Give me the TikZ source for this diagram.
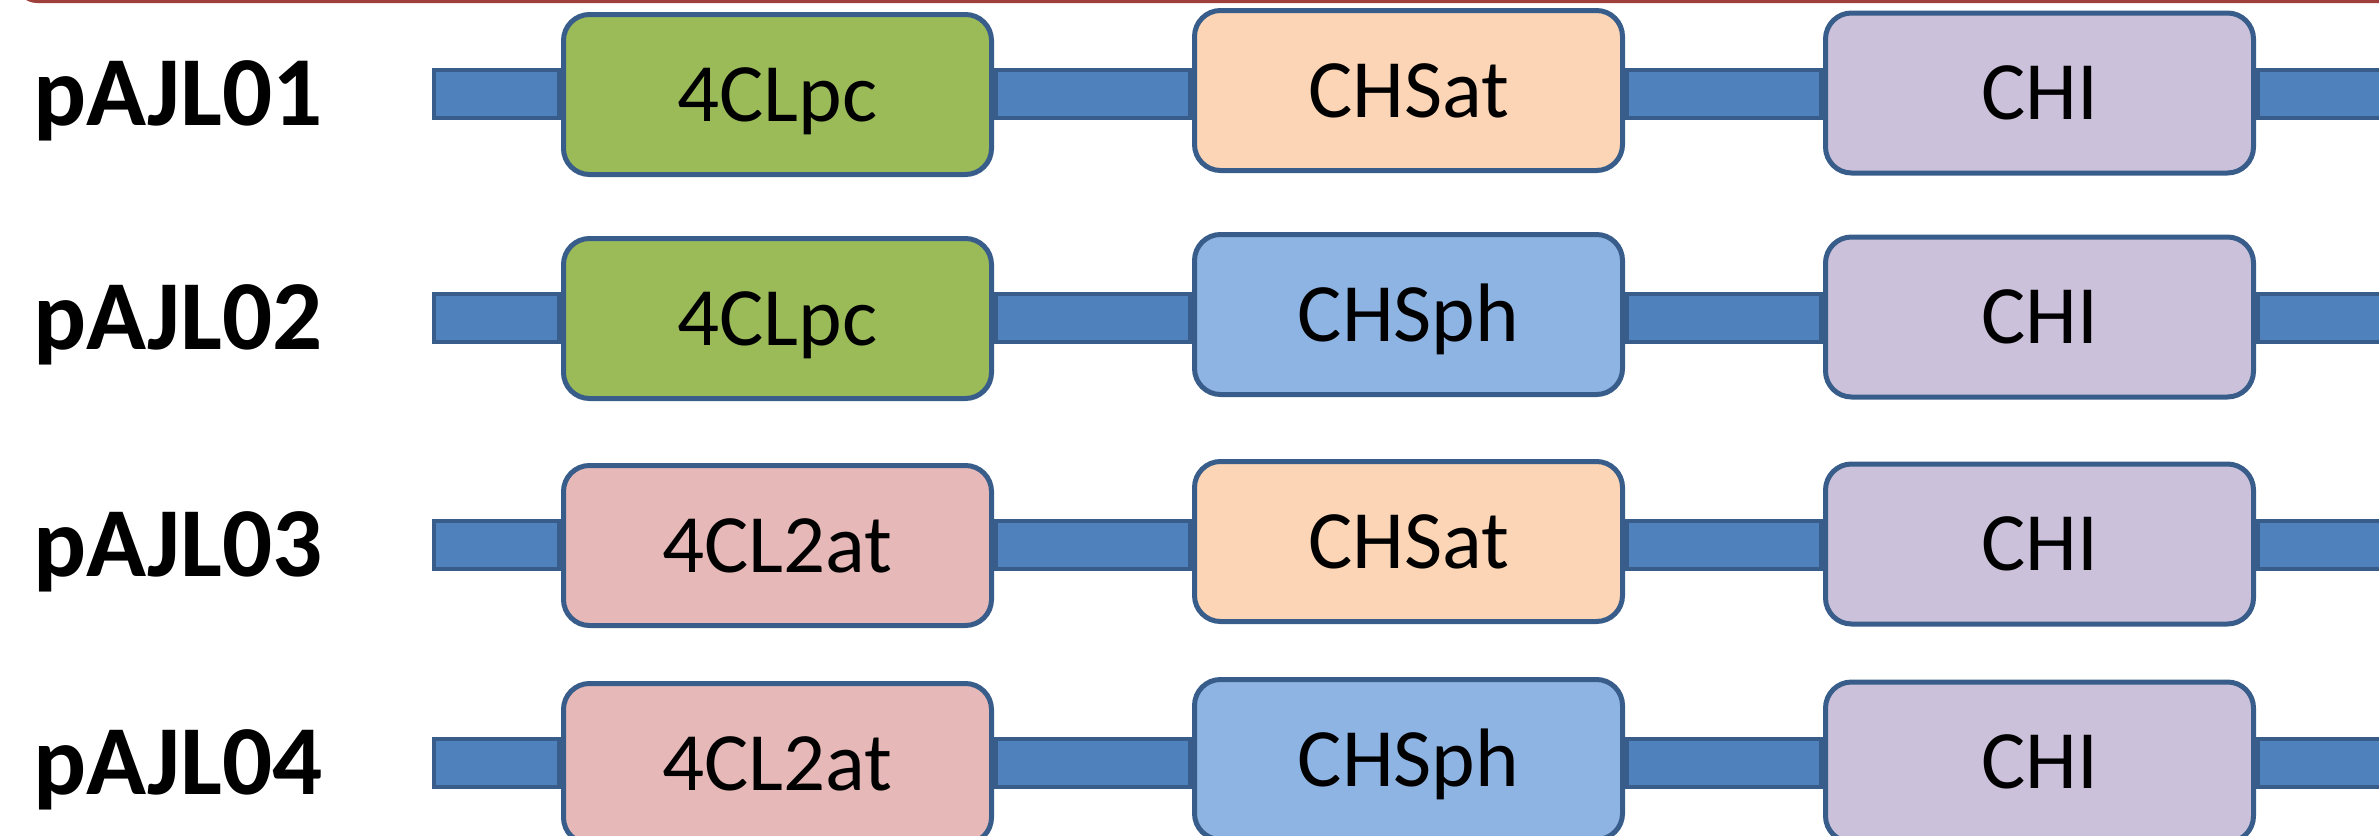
\documentclass[tikz,border=0pt]{standalone}
\usepackage{fontspec}
\setmainfont{Carlito}
\usetikzlibrary{backgrounds}
\definecolor{barfill}{HTML}{4F81BD}
\definecolor{edge}{HTML}{385D8A}
\definecolor{cgreen}{HTML}{9BBB59}
\definecolor{cpeach}{HTML}{FBD5B5}
\definecolor{cblue}{HTML}{8EB4E3}
\definecolor{cpink}{HTML}{E6B9B8}
\definecolor{clav}{HTML}{CCC1DA}
\definecolor{redline}{HTML}{A0403D}
\begin{document}
\begin{tikzpicture}[x=1pt,y=-1pt,
  box/.style={draw=edge, line width=5pt, rounded corners=26pt,
    minimum width=428pt, minimum height=160pt, inner sep=0pt,
    font=\fontsize{83}{90}\selectfont, text height=53pt, text depth=0pt},
  lab/.style={anchor=base west, inner sep=0pt, font=\fontsize{99}{104}\selectfont\bfseries},
  bar/.style={draw=edge, line width=52pt,
    postaction={draw=barfill, line width=44pt, shorten <=4pt, shorten >=4pt}},
  topline/.style={draw=redline, line width=3pt}]
\useasboundingbox (0,0) rectangle (2379,835);
\clip (0,0) rectangle (2379,835);
\draw[topline, rounded corners=20pt] (17,-60) -- (17,1.5) -- (2420,1.5);
% rows
\foreach \r/\y/\name/\fa/\ta/\fb/\tb in {1/94/pAJL01/cgreen/4CLpc/cpeach/CHSat,
                                        2/318/pAJL02/cgreen/4CLpc/cblue/CHSph,
                                        3/545/pAJL03/cpink/4CL2at/cpeach/CHSat,
                                        4/763/pAJL04/cpink/4CL2at/cblue/CHSph}{
  \node[lab] (lab\r) at (33,\y+31) {\name};
  \coordinate (L\r) at (432,\y);
  \coordinate (R\r) at (2400,\y);
  \node[box, fill=\fa] (a\r) at (777.5,\y+0.5) {\ta};
  \node[box, fill=\fb] (b\r) at (1408.5,\y-3.5) {\tb};
  \node[box, fill=clav] (c\r) at (2039.5,\y-1) {CHI};
  \begin{scope}[on background layer]
    \draw[bar] (L\r) -- (a\r.west |- L\r);
    \draw[bar] (a\r.east |- L\r) -- (b\r.west |- L\r);
    \draw[bar] (b\r.east |- L\r) -- (c\r.west |- L\r);
    \draw[bar] (c\r.east |- L\r) -- (R\r);
  \end{scope}
}
\end{tikzpicture}
\end{document}
